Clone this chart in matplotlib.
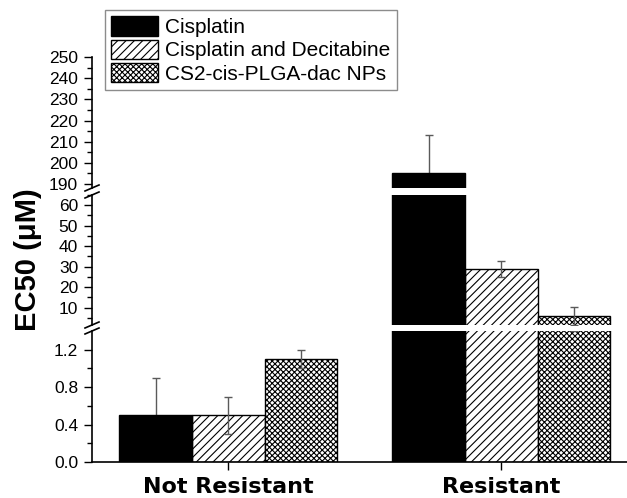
import matplotlib
matplotlib.use("Agg")
import matplotlib.pyplot as plt
from matplotlib.patches import Patch
from matplotlib.lines import Line2D
import numpy as np

categories = ["Not Resistant", "Resistant"]
series = ["Cisplatin", "Cisplatin and Decitabine", "CS2-cis-PLGA-dac NPs"]
values = {
    "Cisplatin": [0.5, 195.0],
    "Cisplatin and Decitabine": [0.5, 29.0],
    "CS2-cis-PLGA-dac NPs": [1.1, 5.8],
}
errors = {
    "Cisplatin": [0.4, 18.0],
    "Cisplatin and Decitabine": [0.2, 4.0],
    "CS2-cis-PLGA-dac NPs": [0.1, 4.4],
}
hatches = {"Cisplatin": "", "Cisplatin and Decitabine": "////", "CS2-cis-PLGA-dac NPs": "xxxxxx"}
faces = {"Cisplatin": "black", "Cisplatin and Decitabine": "white", "CS2-cis-PLGA-dac NPs": "white"}

plt.rcParams['font.family'] = ['Liberation Sans', 'DejaVu Sans']
plt.rcParams['hatch.linewidth'] = 0.8

W, H = 627, 498
fig = plt.figure(figsize=(W / 100, H / 100), dpi=100)

left = 92 / W
right = 1.0
segs = [  # (top px, bottom px, ylim, majors, minors)
    (57.3, 188, (188, 250), np.arange(190, 251, 10), np.arange(195, 251, 10)),
    (195, 325, (1.5, 65), np.arange(10, 61, 10), np.arange(5, 66, 10)),
    (331, 462, (0, 1.4), np.array([0.0, 0.4, 0.8, 1.2]), np.array([0.2, 0.6, 1.0])),
]
major_fmt = ["{:.0f}", "{:.0f}", "{:.1f}"]

x = np.arange(len(categories))
w = 0.266
offsets = [-w, 0, w]

axes = []
for i, (tp, bp, ylim, majors, minors) in enumerate(segs):
    ax = fig.add_axes([left, 1 - bp / H, right - left, (bp - tp) / H])
    for j, s in enumerate(series):
        z = 4 if s == "Cisplatin" else 2
        v = np.array(values[s])
        e = np.array(errors[s])
        ax.bar(x + offsets[j], v, width=w, color=faces[s], edgecolor="black",
               hatch=hatches[s], linewidth=1.0, zorder=z)
        keep = (v + e > ylim[0]) & (v - e < ylim[1])
        if keep.any():
            ax.errorbar((x + offsets[j])[keep], v[keep], yerr=e[keep], fmt="none",
                        ecolor="#5a5a5a", elinewidth=1.0, capsize=3, capthick=1.0, zorder=3)
    ax.set_xlim(-0.499, 1.46)
    ax.set_ylim(*ylim)
    ax.set_yticks(majors)
    ax.set_yticklabels([major_fmt[i].format(v) for v in majors])
    ax.set_yticks(minors, minor=True)
    for sp in ["top", "right"]:
        ax.spines[sp].set_visible(False)
    ax.spines["left"].set_linewidth(1.2)
    ax.tick_params(axis="y", which="major", direction="out", length=6, width=1.0,
                   labelsize=12.5, pad=4)
    ax.tick_params(axis="y", which="minor", direction="out", length=3.5, width=1.0)
    if i < 2:
        ax.spines["bottom"].set_visible(False)
        ax.set_xticks([])
    else:
        ax.spines["bottom"].set_linewidth(1.2)
        ax.set_xticks(x)
        ax.set_xticklabels(categories, fontsize=16, fontweight="bold", family="DejaVu Sans")
        ax.tick_params(axis="x", direction="out", length=6, width=1.0, pad=5)
    ax.patch.set_alpha(0)
    axes.append(ax)

# axis break marks
for ypx in [188, 195, 325, 331]:
    yf = 1 - ypx / H
    fig.add_artist(Line2D([left - 7 / W, left + 7 / W], [yf - 3 / H, yf + 3 / H],
                          color="black", lw=1.2))

fig.text(28.5 / W, 1 - 259.5 / H, "EC50 (\u03bcM)", rotation=90, ha="center", va="center",
         fontsize=21, fontweight="bold")

handles = [Patch(facecolor=faces[s], edgecolor="black", hatch=hatches[s], linewidth=1.0)
           for s in series]
leg = fig.legend(handles, series, loc="upper left", bbox_to_anchor=(105 / W, 1 - 10 / H),
                 fontsize=15, frameon=True, fancybox=False, edgecolor="#707070",
                 handlelength=2.25, handleheight=1.05, handletextpad=0.35,
                 labelspacing=0.12, borderpad=0.3, borderaxespad=0)
leg.get_frame().set_linewidth(1.0)

fig.savefig("out.png", dpi=100)
